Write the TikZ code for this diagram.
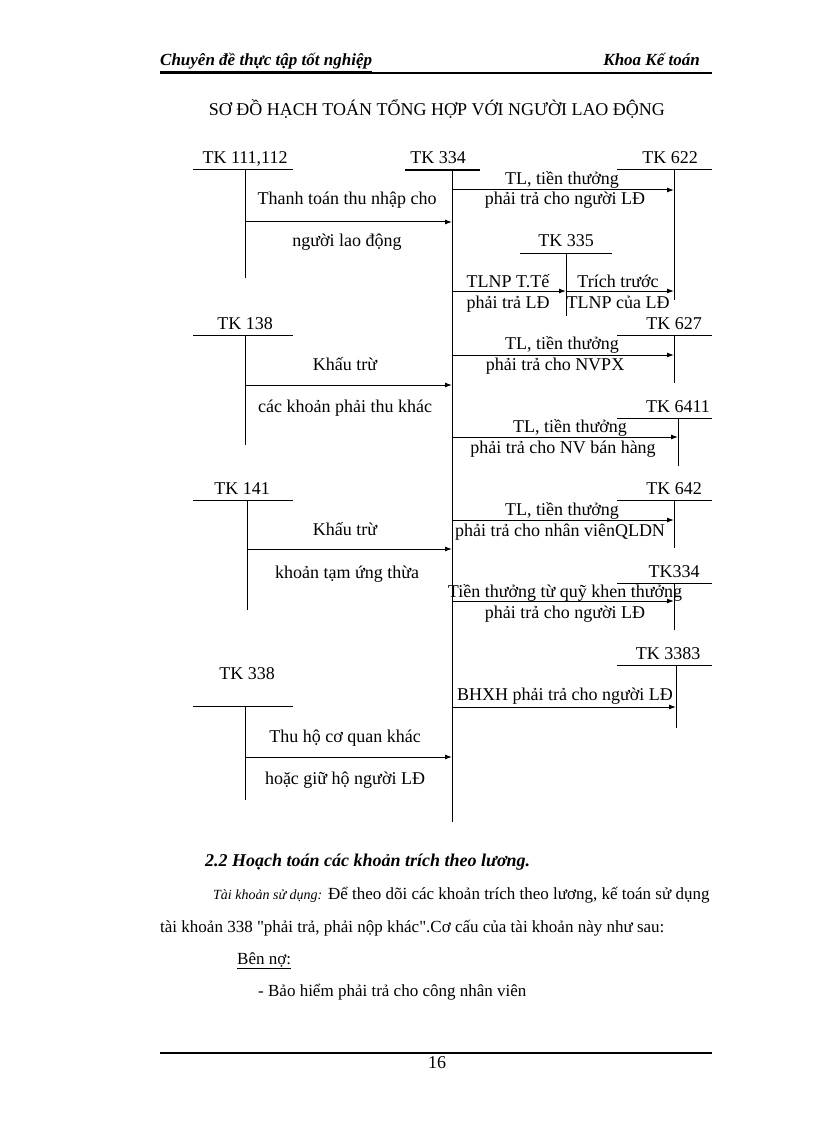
\documentclass[tikz,border=0pt]{standalone}
\usepackage{fontspec}
\setmainfont{Liberation Serif}
\usetikzlibrary{arrows.meta}
\tikzset{
  lbl/.style={inner sep=0pt, text height=12pt, text depth=4pt, font=\fontsize{18}{18}\selectfont},
  body/.style={lbl, anchor=base west, font=\fontsize{17}{17}\selectfont},
  bar/.style={line width=1pt},
  flow/.style={line width=1pt, -{Latex[length=7pt,width=5pt]}}
}
\begin{document}
\begin{tikzpicture}[x=1pt,y=-1pt]
\useasboundingbox (0,0) rectangle (816,1123);

% header
\node (hl)[lbl, anchor=base west, font=\fontsize{17}{17}\selectfont\bfseries\itshape] at (160,66) {\underline{Chuyên đề thực tập tốt nghiệp}};
\node (hr)[lbl, anchor=base east, font=\fontsize{17}{17}\selectfont\bfseries\itshape] at (700,66) {Khoa Kế toán};
\draw [line width=1.5pt] (160,73) -- (712,73);
\node (title)[lbl] at (437,112) {SƠ ĐỒ HẠCH TOÁN TỔNG HỢP VỚI NGƯỜI LAO ĐỘNG};

% accounts
\node (t111)[lbl] at (245,160) {TK 111,112};
\draw [bar] (193,170) -- (293,170); \draw [bar] (245,170) -- (245,278);
\node (t334)[lbl] at (438,160) {TK 334};
\draw [line width=2pt] (405,170) -- (480,170); \draw [bar] (452,170) -- (452,822);
\node (t622)[lbl] at (670,160) {TK 622};
\draw [bar] (617,170) -- (712,170); \draw [bar] (674,170) -- (674,300);
\node (t335)[lbl] at (566,243) {TK 335};
\draw [bar] (520,253) -- (612,253); \draw [bar] (566,253) -- (566,316);
\node (t138)[lbl] at (245,325) {TK 138};
\draw [bar] (193,335) -- (293,335); \draw [bar] (245,335) -- (245,445);
\node (t627)[lbl] at (674,325) {TK 627};
\draw [bar] (617,335) -- (712,335); \draw [bar] (674,335) -- (674,383);
\node (t6411)[lbl] at (678,408) {TK 6411};
\draw [bar] (617,418) -- (712,418); \draw [bar] (678,418) -- (678,466);
\node (t141)[lbl] at (242,490) {TK 141};
\draw [bar] (193,500) -- (293,500); \draw [bar] (247,500) -- (247,610);
\node (t642)[lbl] at (674,490) {TK 642};
\draw [bar] (617,500) -- (712,500); \draw [bar] (674,500) -- (674,548);
\node (t334b)[lbl] at (674,573) {TK334};
\draw [bar] (617,583) -- (712,583); \draw [bar] (674,583) -- (674,630);
\node (t3383)[lbl] at (668,655) {TK 3383};
\draw [bar] (617,665) -- (712,665); \draw [bar] (676,665) -- (676,728);
\node (t338)[lbl] at (247,675) {TK 338};
\draw [bar] (193,706) -- (293,706); \draw [bar] (245,706) -- (245,800);

% flows
\coordinate (a1) at (245,222); \coordinate (b1) at (452,222);
\draw [flow] (a1) -- (b1);
\node (l1)[lbl] at (347,201) {Thanh toán thu nhập cho};
\node (l2)[lbl] at (347,243) {người lao động};
\coordinate (a2) at (452,190); \coordinate (b2) at (674,190);
\draw [flow] (a2) -- (b2);
\node (l3)[lbl] at (562,181) {TL, tiền thưởng};
\node (l4)[lbl] at (565,201) {phải trả cho người LĐ};
\coordinate (a3) at (452,291); \coordinate (b3) at (566,291); \coordinate (c3) at (674,291);
\draw [flow] (a3) -- (b3);
\draw [flow] (b3) -- (c3);
\node (l5)[lbl] at (508,283) {TLNP T.Tế};
\node (l6)[lbl] at (508,304) {phải trả LĐ};
\node (l7)[lbl] at (618,283) {Trích trước};
\node (l8)[lbl] at (618,304) {TLNP của LĐ};
\coordinate (a4) at (245,385); \coordinate (b4) at (452,385);
\draw [flow] (a4) -- (b4);
\node (l9)[lbl] at (345,366) {Khấu trừ};
\node (l10)[lbl] at (345,408) {các khoản phải thu khác};
\coordinate (a5) at (452,355); \coordinate (b5) at (674,355);
\draw [flow] (a5) -- (b5);
\node (l11)[lbl] at (562,345) {TL, tiền thưởng};
\node (l12)[lbl] at (555,366) {phải trả cho NVPX};
\coordinate (a6) at (452,437); \coordinate (b6) at (678,437);
\draw [flow] (a6) -- (b6);
\node (l13)[lbl] at (570,428) {TL, tiền thưởng};
\node (l14)[lbl] at (563,449) {phải trả cho NV bán hàng};
\coordinate (a7) at (247,549); \coordinate (b7) at (452,549);
\draw [flow] (a7) -- (b7);
\node (l15)[lbl] at (345,531) {Khấu trừ};
\node (l16)[lbl] at (347,574) {khoản tạm ứng thừa};
\coordinate (a8) at (452,520); \coordinate (b8) at (674,520);
\draw [flow] (a8) -- (b8);
\node (l17)[lbl] at (562,511) {TL, tiền thưởng};
\node (l18)[lbl] at (560,532) {phải trả cho nhân viênQLDN};
\coordinate (a9) at (452,601); \coordinate (b9) at (674,601);
\draw [flow] (a9) -- (b9);
\node (l19)[lbl] at (565,593) {Tiền thưởng từ quỹ khen thưởng};
\node (l20)[lbl] at (565,614) {phải trả cho người LĐ};
\coordinate (a10) at (452,707); \coordinate (b10) at (676,707);
\draw [flow] (a10) -- (b10);
\node (l21)[lbl] at (565,696) {BHXH phải trả cho người LĐ};
\coordinate (a11) at (245,757); \coordinate (b11) at (452,757);
\draw [flow] (a11) -- (b11);
\node (l22)[lbl] at (345,738) {Thu hộ cơ quan khác};
\node (l23)[lbl] at (345,780) {hoặc giữ hộ người LĐ};

% body text
\node (sec)[lbl, anchor=base west, font=\fontsize{18}{18}\selectfont\bfseries\itshape] at (205,866) {2.2 Hoạch toán các khoản trích theo lương.};
\node (p1)[body] at (213,899) {{\itshape\fontsize{14}{14}\selectfont Tài khoản sử dụng:} Để theo dõi các khoản trích theo lương, kế toán sử dụng};
\node (p2)[body] at (160,932) {tài khoản 338 \textquotedbl phải trả, phải nộp khác\textquotedbl.Cơ cấu của tài khoản này như sau:};
\node (p3)[body] at (237,964) {\underline{Bên nợ:}};
\node (p4)[body] at (258,996) {- Bảo hiểm phải trả cho công nhân viên};

% footer
\draw [line width=1.5pt] (160,1053) -- (712,1053);
\node (pg)[lbl] at (437,1064) {16};
\end{tikzpicture}
\end{document}
